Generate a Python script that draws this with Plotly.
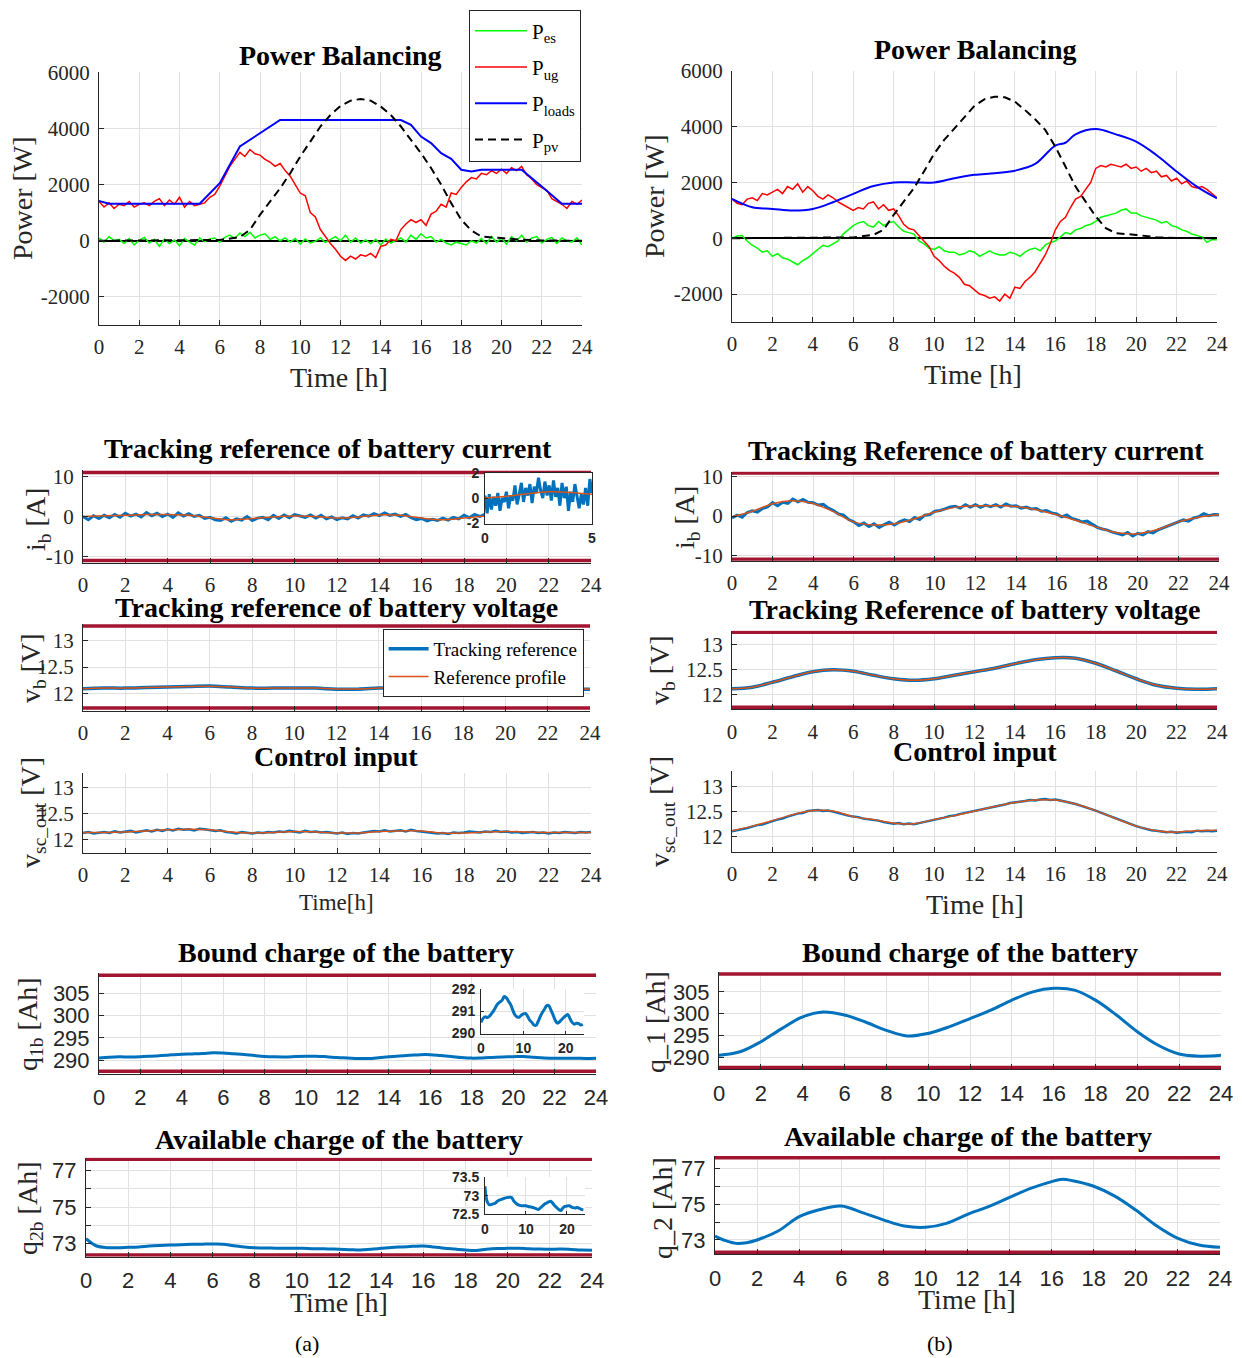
import plotly.graph_objects as go

W, H = 1242, 1358
SERIF = "Liberation Serif, Times New Roman, serif"
SANS = "Liberation Sans, Arial, sans-serif"
TICKC = "#262626"
GRID = "#E1E1E1"
BLUE = "#0072BD"
ORANGE = "#D95319"
DARKRED = "#A2142F"

# ------------------------------------------------------------------ data
HOURS = list(range(0, 25, 2))
DT = 0.25  # sampling step of the noisy records [h]

# ---- Power balancing (a)
loads_a_t = [0, 0.5, 5, 6, 7, 8, 9, 15, 15.5, 16, 16.5, 17, 17.5, 18, 18.5, 19, 21, 22, 23, 24]
loads_a = [1420, 1320, 1320, 2050, 3360, 3830, 4300, 4300, 4130, 3710, 3480, 3120, 2920, 2530,
           2470, 2530, 2530, 1930, 1320, 1320]
pv_t = [0, 6, 7, 7.5, 8, 8.5, 9, 9.5, 10, 10.5, 11, 11.5, 12, 12.5, 13, 13.5, 14, 14.5, 15, 15.5,
        16, 16.5, 17, 17.5, 18, 18.5, 19, 20, 21, 22, 24]
pv_a = [0, 30, 130, 390, 925, 1400, 1870, 2400, 3000, 3530, 4070, 4480, 4800, 4990, 5050, 4990,
        4780, 4480, 4070, 3590, 3120, 2590, 2000, 1340, 750, 370, 150, 95, 35, 10, 0]
pes_a = [100, -50, 150, 0, 50, -100, 80, -150, 20, 120, -80, 50,
         -200, 60, -100, 30, -180, 80, -50, -150, 100, -30, 60, 100,
         -50, 120, 200, 80, 280, 150, 300, 100, 200, 250, 50, 150,
         0, 100, -50, 80, -120, 60, -80, -20, 100, -60, 50, 150,
         0, 200, -50, 100, -80, 30, -100, 50, -150, 60, -80, 0,
         100, -50, 200, 50, 250, 100, 150, -50, 50, -80, -150, -50,
         -100, -150, 0, -80, 80, -100, 150, -50, 100, -120, 150, 0,
         200, -50, 100, 150, -80, 50, 120, -100, 100, 0, -50, 100,
         -150]
pug_a = [1400, 1200, 1350, 1150, 1300, 1250, 1400, 1200, 1300, 1350, 1250, 1400,
         1500, 1250, 1450, 1300, 1550, 1200, 1400, 1250, 1300, 1350, 1550, 1650,
         1950, 2300, 2650, 2900, 3150, 3000, 3250, 3100, 3050, 2900, 2800, 2650,
         2750, 2500, 2300, 2000, 1700, 1600, 1000, 850, 400, 150, -100, -300,
         -550, -700, -550, -650, -500, -550, -450, -600, -200, -150, 50, 0,
         400, 600, 750, 650, 750, 550, 950, 1050, 1300, 1200, 1700, 1650,
         1900, 2100, 2250, 2200, 2400, 2350, 2500, 2400, 2550, 2400, 2600, 2500,
         2650, 2350, 2200, 2000, 1900, 1800, 1500, 1400, 1300, 1150, 1400, 1300,
         1450]

# ---- Power balancing (b)
loads_b_t = [0, 1, 2, 3, 4, 5, 6, 7, 8, 9, 10, 11, 12, 13, 14, 15, 16, 16.5, 17, 18, 19, 20, 21, 22, 23, 24]
loads_b = [1410, 1110, 1050, 990, 1050, 1290, 1590, 1870, 2000, 2000, 2000, 2150, 2270, 2330,
           2420, 2660, 3320, 3420, 3720, 3910, 3720, 3460, 2980, 2390, 1850, 1430]
pv_b = [0, 30, 120, 300, 835, 1310, 1790, 2390, 3020, 3520, 3940, 4360, 4740, 4980, 5070, 5050,
        4890, 4590, 4260, 3880, 3280, 2570, 1850, 1310, 780, 360, 180, 120, 35, 10, 0]
pes_b = [0, 80, 100, -100, -250, -350, -500, -450, -650, -550, -700, -750,
         -850, -950, -800, -700, -550, -400, -250, -300, -200, -100, 150, 300,
         450, 550, 600, 450, 400, 600, 450, 550, 600, 400, 250, 200,
         150, -100, -200, -350, -400, -300, -450, -500, -500, -600, -550, -450,
         -500, -650, -550, -450, -550, -600, -600, -500, -550, -650, -500, -400,
         -350, -450, -250, -150, -100, 50, 200, 150, 300, 350, 450, 500,
         600, 750, 800, 850, 900, 1000, 1050, 900, 900, 800, 750, 700,
         650, 550, 600, 450, 400, 300, 250, 150, 100, 50, -150, -50,
         -50]
pug_b = [1400, 1250, 1200, 1400, 1450, 1350, 1600, 1550, 1650, 1750, 1600, 1850,
         1750, 1950, 1650, 1850, 1700, 1500, 1400, 1550, 1450, 1300, 1200, 1100,
         1000, 1100, 1050, 1250, 1300, 1050, 1200, 1000, 1050, 800, 500, 350,
         300, 100, -100, -300, -650, -800, -1000, -1150, -1250, -1400, -1650, -1700,
         -1850, -2000, -2050, -2150, -2100, -2250, -2000, -2150, -1750, -1800, -1550, -1400,
         -1200, -900, -600, -200, 300, 600, 750, 1100, 1400, 1500, 1750, 2000,
         2500, 2600, 2550, 2650, 2600, 2550, 2650, 2500, 2550, 2400, 2500, 2350,
         2400, 2200, 2250, 2050, 2150, 1950, 2050, 1850, 1800, 1850, 1750, 1600,
         1450]

# ---- battery current
ib_bounds = [-11, 11]
ib_ref_a = [0.0, 0.2, 0.3, 0.5, 0.5, 0.3, -0.3, -0.8, -0.5, -0.1, 0.1, 0.0, -0.4, -0.1, 0.4,
            0.3, -0.4, -0.8, -0.4, 0.1, 0.3, 0.3, 0.3, 0.2, 0.1]
ib_trk_a = [0.0, -0.8, 0.2, -0.5, 0.3, -0.3, 0.5, -0.2, 0.8, 0.1, 0.6, -0.1,
            1.0, 0.2, 0.8, 0.0, 0.6, -0.2, 0.9, 0.1, 0.7, 0.0, 0.3, -0.5,
            -0.2, -0.8, -1.0, -0.3, -1.2, -0.6, -0.9, 0.0, -1.0, -0.4, -0.2, -0.8,
            0.3, -0.5, 0.4, -0.3, 0.5, 0.1, -0.2, 0.4, -0.4, 0.3, -0.6, -0.1,
            -0.8, -0.3, -0.6, 0.2, -0.4, 0.4, 0.1, 0.7, 0.2, 0.9, 0.3, 0.6,
            0.0, 0.5, -0.3, -0.8, -0.5, -1.1, -0.7, -1.0, -0.4, -0.9, -0.2, -0.6,
            0.3, -0.3, 0.5, 0.0, 0.6, 0.1, 0.8, 0.2, 0.5, 0.0, 0.7, 0.2,
            0.6, -0.1, 0.4, 0.0, 0.5, 0.2, 0.3, -0.2, 0.4, 0.0, 0.2, -0.1,
            0.0]
ib_zoom_t = [0, 1, 2, 3, 4, 5]
ib_zoom_ref = [0.0, 0.15, 0.35, 0.5, 0.45, 0.3]
ib_zoom_trk = [0.2, -1.2, 0.3, -0.9, 0.1, -0.6, 0.4, -1.0, 0.0, -0.3, 0.5, -0.8, 0.2, -0.2,
               1.0, -0.5, 0.3, 1.2, -0.3, 0.8, 0.2, 1.1, -0.4, 0.9, 0.4, 1.6, 0.6, 0.0, 1.3,
               0.2, 1.0, -0.2, 1.4, 0.1, 0.8, -0.6, 1.2, 0.0, 0.9, -1.0, 0.5, -0.3, 1.1, 0.2,
               -0.8, 0.3, -0.5, 0.8, -0.6, 1.5, 0.4]
ib_ref_b = [-0.2, 1.2, 3.1, 3.9, 3.2, 1.1, -1.5, -2.3, -2.0, -0.7, 1.0, 2.2, 2.6, 2.6, 2.4,
            1.6, 0.3, -1.2, -2.9, -4.3, -4.5, -3.4, -1.5, -0.3, 0.3]
ib_trk_b = [-0.5, 0.2, -0.3, 0.9, 1.3, 1.0, 1.9, 2.3, 3.4, 2.6, 3.5, 3.2,
            4.3, 3.6, 4.2, 3.5, 3.4, 2.8, 3.0, 2.0, 1.4, 0.5, 0.2, -0.9,
            -1.5, -2.4, -1.8, -2.7, -2.0, -2.9, -2.2, -1.6, -2.3, -1.5, -1.0, -1.4,
            -0.4, -0.9, 0.2, 0.4, 1.2, 1.4, 1.8, 2.3, 2.5, 2.0, 2.9, 2.3,
            2.9, 2.2, 2.8, 2.4, 2.9, 2.3, 3.1, 2.5, 2.6, 2.0, 2.3, 1.8,
            1.9, 1.2, 1.4, 0.8, 0.5, -0.2, 0.3, -0.6, -1.0, -1.5, -1.3, -2.2,
            -2.9, -3.3, -3.6, -4.1, -4.5, -4.8, -4.2, -5.1, -4.4, -4.8, -4.0, -4.3,
            -3.5, -3.0, -2.7, -2.2, -1.6, -1.0, -1.3, -0.5, -0.2, 0.6, 0.1, 0.4,
            0.3]

# ---- battery voltage
vb_bounds_a = [11.72, 13.28]
vb_bounds_b = [11.74, 13.24]
vb_trk_a = [12.09, 12.10, 12.10, 12.11, 12.12, 12.13, 12.14, 12.12, 12.10, 12.10, 12.10, 12.10,
            12.08, 12.08, 12.10, 12.11, 12.12, 12.10, 12.08, 12.08, 12.09, 12.09, 12.08, 12.08, 12.08]
vb_ref_a = [12.09, 12.10, 12.10, 12.11, 12.12, 12.13, 12.135, 12.12, 12.10, 12.10, 12.10, 12.10,
            12.085, 12.085, 12.10, 12.11, 12.115, 12.10, 12.085, 12.085, 12.09, 12.09, 12.085, 12.085, 12.085]
vb_trk_b = [12.11, 12.14, 12.24, 12.35, 12.45, 12.49, 12.46, 12.38, 12.31, 12.28, 12.31, 12.38,
            12.45, 12.52, 12.61, 12.69, 12.73, 12.72, 12.62, 12.47, 12.31, 12.18, 12.12, 12.10, 12.11]
vb_ref_b = [12.11, 12.14, 12.24, 12.35, 12.45, 12.49, 12.46, 12.38, 12.31, 12.28, 12.31, 12.38,
            12.45, 12.52, 12.61, 12.69, 12.73, 12.72, 12.62, 12.47, 12.31, 12.18, 12.12, 12.10, 12.11]

# ---- control input
vsc_ref_a = [12.13, 12.13, 12.14, 12.16, 12.18, 12.19, 12.18, 12.14, 12.12, 12.13, 12.15, 12.14,
             12.12, 12.12, 12.15, 12.16, 12.16, 12.12, 12.12, 12.14, 12.15, 12.14, 12.13, 12.13, 12.13]
vsc_trk_a = [12.12, 12.14, 12.11, 12.13, 12.14, 12.12, 12.15, 12.13, 12.14, 12.16, 12.13, 12.15,
             12.17, 12.15, 12.18, 12.16, 12.19, 12.17, 12.20, 12.18, 12.19, 12.17, 12.20, 12.19,
             12.18, 12.16, 12.17, 12.14, 12.13, 12.11, 12.14, 12.12, 12.11, 12.13, 12.12, 12.14,
             12.13, 12.15, 12.14, 12.16, 12.15, 12.13, 12.16, 12.14, 12.15, 12.13, 12.14, 12.12,
             12.11, 12.13, 12.10, 12.12, 12.11, 12.13, 12.14, 12.16, 12.15, 12.17, 12.15, 12.16,
             12.17, 12.15, 12.18, 12.16, 12.15, 12.13, 12.12, 12.11, 12.12, 12.10, 12.13, 12.12,
             12.13, 12.15, 12.14, 12.13, 12.15, 12.14, 12.16, 12.14, 12.15, 12.13, 12.14, 12.12,
             12.13, 12.14, 12.12, 12.13, 12.11, 12.13, 12.12, 12.14, 12.13, 12.12, 12.14, 12.13,
             12.14]
vsc_ref_b = [12.12, 12.21, 12.32, 12.44, 12.52, 12.51, 12.40, 12.34, 12.27, 12.26, 12.34, 12.42,
             12.51, 12.60, 12.68, 12.73, 12.73, 12.65, 12.52, 12.36, 12.21, 12.12, 12.09, 12.12, 12.13]
vsc_trk_b = [12.11, 12.13, 12.14, 12.17, 12.20, 12.23, 12.24, 12.28, 12.31, 12.34, 12.36, 12.40,
             12.43, 12.46, 12.47, 12.51, 12.52, 12.53, 12.51, 12.52, 12.50, 12.47, 12.45, 12.42,
             12.40, 12.39, 12.36, 12.35, 12.33, 12.32, 12.29, 12.28, 12.26, 12.27, 12.25, 12.26,
             12.25, 12.27, 12.29, 12.31, 12.34, 12.36, 12.38, 12.41, 12.42, 12.45, 12.47, 12.49,
             12.51, 12.53, 12.56, 12.57, 12.60, 12.62, 12.64, 12.67, 12.68, 12.70, 12.71, 12.73,
             12.72, 12.74, 12.75, 12.73, 12.74, 12.72, 12.70, 12.67, 12.65, 12.62, 12.59, 12.55,
             12.52, 12.48, 12.44, 12.40, 12.36, 12.32, 12.28, 12.25, 12.21, 12.18, 12.15, 12.13,
             12.12, 12.10, 12.09, 12.10, 12.08, 12.09, 12.10, 12.09, 12.12, 12.11, 12.12, 12.11,
             12.12]

# ---- bound charge
q1_bounds_a = [287.5, 309.1]
q1_bounds_b = [287.7, 309.1]
q1_a = [290.50, 290.68, 290.75, 290.72, 290.78, 290.90, 291.03, 291.20, 291.35, 291.42, 291.50,
        291.66, 291.60, 291.45, 291.30, 291.05, 290.84, 290.75, 290.73, 290.82, 290.88, 290.90,
        290.77, 290.60, 290.50, 290.38, 290.37, 290.55, 290.77, 290.95, 291.10, 291.25, 291.25,
        291.05, 290.84, 290.60, 290.47, 290.52, 290.62, 290.72, 290.80, 290.85, 290.67, 290.50,
        290.42, 290.46, 290.45, 290.38, 290.42]
q1_b = [290.5, 291.3, 293.6, 296.6, 299.3, 300.4, 299.7, 298.1, 296.2, 294.9, 295.5, 297.0,
        298.9, 300.8, 303.1, 305.0, 305.8, 305.4, 303.1, 299.7, 295.9, 292.8, 290.8, 290.3, 290.5]

# ---- available charge
q2_bounds_a = [72.35, 77.63]
q2_bounds_b = [72.31, 77.59]
q2_a = [73.25, 72.85, 72.76, 72.76, 72.78, 72.80, 72.85, 72.88, 72.90, 72.92, 72.94, 72.95,
        72.96, 72.95, 72.86, 72.80, 72.76, 72.74, 72.73, 72.73, 72.73, 72.71, 72.70, 72.69,
        72.67, 72.65, 72.63, 72.67, 72.72, 72.77, 72.80, 72.83, 72.85, 72.80, 72.73, 72.68,
        72.63, 72.60, 72.67, 72.71, 72.72, 72.73, 72.70, 72.68, 72.67, 72.68, 72.66, 72.63, 72.62]
q2_b_t = [0, 0.5, 1, 1.5, 2, 3, 4, 5, 6, 7, 8, 9, 10, 11, 12, 13, 14, 15, 16, 16.5, 17, 18, 19,
          20, 21, 22, 23, 24]
q2_b = [73.22, 72.96, 72.81, 72.85, 73.0, 73.5, 74.3, 74.7, 74.9, 74.53, 74.12, 73.78, 73.71,
        73.93, 74.43, 74.86, 75.38, 75.88, 76.26, 76.39, 76.31, 76.0, 75.45, 74.67, 73.78, 73.09,
        72.72, 72.59]


def tgrid(values, step):
    return [i * step for i in range(len(values))]


H1 = 1.0   # hourly records
HH = 0.5   # half-hourly records

# ------------------------------------------------------------------ figure
fig = go.Figure()


def fmt(v):
    return ("%g" % v)


def add_axes(n, box, xr, yr, xtv, ytv, xtt=None, ytt=None, font=None, mirror=False,
             showgrid=True, zeroline=False, ticklen=5, xstand=3, ystand=4):
    x0, x1, y0, y1 = box
    sx = "" if n == 1 else str(n)
    common = dict(showline=True, linecolor=TICKC, linewidth=1, mirror=mirror, ticks="inside",
                  ticklen=ticklen, tickcolor=TICKC, tickwidth=1, tickfont=font,
                  showgrid=showgrid, gridcolor=GRID, gridwidth=1, fixedrange=True,
                  tickmode="array", automargin=False)
    xa = dict(domain=[x0 / W, x1 / W], range=xr, anchor="y" + sx, tickvals=xtv,
              ticktext=xtt if xtt is not None else [fmt(v) for v in xtv], zeroline=False,
              ticklabelstandoff=xstand, **common)
    ya = dict(domain=[1 - y1 / H, 1 - y0 / H], range=yr, anchor="x" + sx, tickvals=ytv,
              ticktext=ytt if ytt is not None else [fmt(v) for v in ytv], zeroline=zeroline,
              zerolinecolor="black", zerolinewidth=2, ticklabelstandoff=ystand, **common)
    fig.update_layout(**{"xaxis" + sx: xa, "yaxis" + sx: ya})
    return "x" + sx, "y" + sx


TF = dict(family=SERIF, size=21, color=TICKC)
TFS = dict(family=SANS, size=22, color=TICKC)
IF = dict(family=SANS, size=14, color=TICKC, weight="bold")


def line(xa, ya, x, y, color, width, dash=None, name=None, legend=None, shape="linear", group=None):
    fig.add_trace(go.Scatter(
        x=x, y=y, xaxis=xa, yaxis=ya, mode="lines", name=name,
        line=dict(color=color, width=width, dash=dash, shape=shape),
        showlegend=name is not None, legend=legend, legendgroup=group, hoverinfo="skip"))


def bounds(xa, ya, b):
    for v in b:
        line(xa, ya, [0, 24], [v, v], DARKRED, 3.5)


# (a) Power balancing
xa, ya = add_axes(1, (99, 582, 72.3, 325), [0, 24], [-3000, 6000], HOURS,
                  [-2000, 0, 2000, 4000, 6000], font=TF, zeroline=True)
line(xa, ya, tgrid(pes_a, DT), pes_a, "#00FF00", 1.5, name="P<sub>es</sub>", legend="legend", group="g1")
line(xa, ya, tgrid(pug_a, DT), pug_a, "#FF0000", 1.5, name="P<sub>ug</sub>", legend="legend", group="g2")
line(xa, ya, loads_a_t, loads_a, "#0000FF", 2, name="P<sub>loads</sub>", legend="legend", group="g3")
line(xa, ya, pv_t, pv_a, "black", 2, dash="8px,5px", name="P<sub>pv</sub>", legend="legend", group="g4")

# (b) Power balancing
xa, ya = add_axes(2, (732, 1217, 70.7, 322), [0, 24], [-3000, 6000], HOURS,
                  [-2000, 0, 2000, 4000, 6000], font=TF, zeroline=True)
line(xa, ya, tgrid(pes_b, DT), pes_b, "#00FF00", 1.5)
line(xa, ya, tgrid(pug_b, DT), pug_b, "#FF0000", 1.5)
line(xa, ya, loads_b_t, loads_b, "#0000FF", 2, shape="spline")
line(xa, ya, pv_t, pv_b, "black", 2, dash="8px,5px")

# (a) battery current
xa, ya = add_axes(3, (83, 591, 470, 563), [0, 24], [-11.6, 11.6], HOURS, [-10, 0, 10], font=TF)
bounds(xa, ya, ib_bounds)
line(xa, ya, tgrid(ib_trk_a, DT), ib_trk_a, BLUE, 3)
line(xa, ya, tgrid(ib_ref_a, H1), ib_ref_a, ORANGE, 1.5, shape="spline")

# (b) battery current
xa, ya = add_axes(4, (732, 1219, 471.7, 560.7), [0, 24], [-11.4, 11.3], HOURS, [-10, 0, 10], font=TF)
bounds(xa, ya, ib_bounds)
line(xa, ya, tgrid(ib_trk_b, DT), ib_trk_b, BLUE, 3)
line(xa, ya, tgrid(ib_ref_b, H1), ib_ref_b, ORANGE, 1.5, shape="spline")

# (a) battery voltage
xa, ya = add_axes(5, (83, 590, 624, 710.7), [0, 24], [11.67, 13.32], HOURS, [12, 12.5, 13], font=TF)
bounds(xa, ya, vb_bounds_a)
line(xa, ya, tgrid(vb_trk_a, H1), vb_trk_a, BLUE, 3.5, shape="spline",
     name="Tracking reference", legend="legend2", group="v1")
line(xa, ya, tgrid(vb_ref_a, H1), vb_ref_a, ORANGE, 1.5, shape="spline",
     name="Reference profile", legend="legend2", group="v2")

# (b) battery voltage
xa, ya = add_axes(6, (732, 1217, 630.7, 709.3), [0, 24], [11.7, 13.27], HOURS, [12, 12.5, 13], font=TF)
bounds(xa, ya, vb_bounds_b)
line(xa, ya, tgrid(vb_trk_b, H1), vb_trk_b, BLUE, 3.5, shape="spline")
line(xa, ya, tgrid(vb_ref_b, H1), vb_ref_b, ORANGE, 1.5, shape="spline")

# (a) control input
xa, ya = add_axes(7, (83, 591, 773, 852.7), [0, 24], [11.74, 13.275], HOURS, [12, 12.5, 13], font=TF)
line(xa, ya, tgrid(vsc_trk_a, DT), vsc_trk_a, BLUE, 2.5)
line(xa, ya, tgrid(vsc_ref_a, H1), vsc_ref_a, ORANGE, 1.5, shape="spline")

# (b) control input
xa, ya = add_axes(8, (732, 1217, 771, 851.7), [0, 24], [11.7, 13.31], HOURS, [12, 12.5, 13], font=TF)
line(xa, ya, tgrid(vsc_trk_b, DT), vsc_trk_b, BLUE, 2.5)
line(xa, ya, tgrid(vsc_ref_b, H1), vsc_ref_b, ORANGE, 1.5, shape="spline")

# (a) bound charge
xa, ya = add_axes(9, (99, 596, 973, 1074), [0, 24], [286.9, 309.6], HOURS, [290, 295, 300, 305],
                  font=TFS, xstand=4)
bounds(xa, ya, q1_bounds_a)
line(xa, ya, tgrid(q1_a, HH), q1_a, BLUE, 3, shape="spline")

# (b) bound charge
xa, ya = add_axes(10, (719, 1221, 971.7, 1069.3), [0, 24], [287.3, 309.6], HOURS, [290, 295, 300, 305],
                  font=TFS, xstand=4)
bounds(xa, ya, q1_bounds_b)
line(xa, ya, tgrid(q1_b, H1), q1_b, BLUE, 3, shape="spline")

# (a) available charge
xa, ya = add_axes(11, (86, 592, 1157.7, 1256.7), [0, 24], [72.26, 77.72], HOURS, [73, 74, 75, 76, 77],
                  ytt=["73", " ", "75", " ", "77"], font=TFS, xstand=4)
bounds(xa, ya, q2_bounds_a)
line(xa, ya, tgrid(q2_a, HH), q2_a, BLUE, 3, shape="spline")

# (b) available charge
xa, ya = add_axes(12, (715, 1220, 1156, 1254.3), [0, 24], [72.2, 77.69], HOURS, [73, 74, 75, 76, 77],
                  ytt=["73", " ", "75", " ", "77"], font=TFS, xstand=4)
bounds(xa, ya, q2_bounds_b)
line(xa, ya, q2_b_t, q2_b, BLUE, 3, shape="spline")

# insets
xa, ya = add_axes(13, (485, 592, 472.7, 523.5), [0, 5], [-2, 2], [0, 5], [-2, 0, 2], font=IF,
                  mirror=True, showgrid=False, ticklen=3, xstand=2, ystand=2)
line(xa, ya, tgrid(ib_zoom_trk, 0.1), ib_zoom_trk, BLUE, 3)
line(xa, ya, ib_zoom_t, ib_zoom_ref, ORANGE, 1.5, shape="spline")

xa, ya = add_axes(14, (481, 584, 989, 1033.5), [0, 24.3], [290, 292], [0, 10, 20], [290, 291, 292],
                  font=IF, ticklen=3, xstand=2, ystand=2)
line(xa, ya, tgrid(q1_a, HH), q1_a, BLUE, 3, shape="spline")

xa, ya = add_axes(15, (485, 585, 1177, 1214.3), [0, 24.4], [72.5, 73.5], [0, 10, 20], [72.5, 73, 73.5],
                  font=IF, ticklen=3, xstand=2, ystand=2)
line(xa, ya, tgrid(q2_a, HH), q2_a, BLUE, 3, shape="spline")

# ------------------------------------------------------------------ text
ann = []


def text(s, x, y, size, bold=False, family=SERIF, angle=0, color="black"):
    ann.append(dict(text=s, x=x / W, y=1 - y / H, xref="paper", yref="paper", showarrow=False,
                    xanchor="center", yanchor="middle", textangle=angle,
                    font=dict(family=family, size=size, color=color,
                              weight="bold" if bold else "normal")))


titles = [("Power Balancing", 340, 56), ("Power Balancing", 975, 50),
          ("Tracking reference of battery current", 328, 449),
          ("Tracking Reference of battery current", 976, 451),
          ("Tracking reference of battery voltage", 336, 607),
          ("Tracking Reference of battery voltage", 975, 609),
          ("Control input", 336, 756), ("Control input", 975, 751),
          ("Bound charge of the battery", 346, 953), ("Bound charge of the battery", 970, 953),
          ("Available charge of the battery", 339, 1139),
          ("Available charge of the battery", 968, 1136)]
for s, x, y in titles:
    text(s, x, y, 28, bold=True)

for s, x, y, sz in [("Time [h]", 339, 377, 28), ("Time [h]", 973, 374, 28),
                    ("Time[h]", 336, 902, 23), ("Time [h]", 975, 904, 28),
                    ("Time [h]", 339, 1302, 28), ("Time [h]", 967, 1299, 28)]:
    text(s, x, y, sz, color=TICKC)

ylabels = [("Power [W]", 22, 198), ("Power [W]", 655, 196),
           ("i<sub>b</sub> [A]", 37, 520), ("i<sub>b</sub> [A]", 686, 518),
           ("v<sub>b</sub> [V]", 32, 668), ("v<sub>b</sub> [V]", 661, 670),
           ("v<sub>sc_out</sub> [V]", 32, 813), ("v<sub>sc_out</sub> [V]", 661, 812),
           ("q<sub>1b</sub> [Ah]", 29, 1025), ("q_1 [Ah]", 655, 1022),
           ("q<sub>2b</sub> [Ah]", 29, 1209), ("q_2 [Ah]", 662, 1208)]
for s, x, y in ylabels:
    text(s, x, y, 28, angle=-90, color=TICKC)

text("(a)", 307, 1343, 22)
text("(b)", 940, 1343, 22)

fig.update_layout(
    width=W, height=H, margin=dict(l=0, r=0, t=0, b=0, pad=0, autoexpand=False),
    paper_bgcolor="white", plot_bgcolor="white",
    annotations=ann,
    legend=dict(x=469 / W, y=1 - 9.5 / H, xanchor="left", yanchor="top",
                bgcolor="white", bordercolor=TICKC, borderwidth=1,
                font=dict(family=SERIF, size=21, color="black"), tracegroupgap=6,
                itemwidth=52),
    legend2=dict(x=382.6 / W, y=1 - 629 / H, xanchor="left", yanchor="top",
                 bgcolor="white", bordercolor=TICKC, borderwidth=1,
                 font=dict(family=SERIF, size=19, color="black"), tracegroupgap=0,
                 itemwidth=40),
    showlegend=True,
)

fig.write_html("out.html", config={"displayModeBar": False},
               post_script="document.body.style.margin='0px';document.body.style.padding='0px';")
